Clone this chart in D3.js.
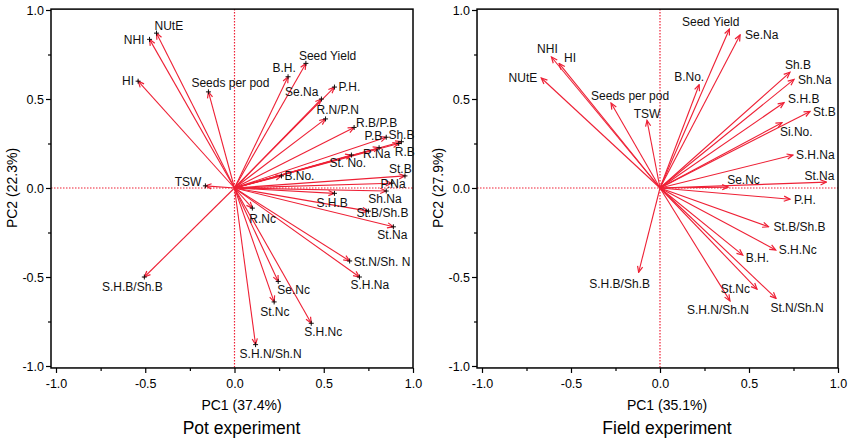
<!DOCTYPE html>
<html>
<head>
<meta charset="utf-8">
<script src="https://cdn.jsdelivr.net/npm/d3@7"></script>
<style>
  body { margin: 0; background: #fff; }
  svg { font-family: Arial, "Liberation Sans", sans-serif; }
</style>
</head>
<body>
<svg id="chart" width="851" height="443"></svg>
<script>
// ---- data ----
let potNames = ["NUtE", "NHI", "HI", "Seeds per pod", "B.H.", "Seed Yield", "P.H.", "Se.Na",
  "R.N/P.N", "R.B/P.B", "P.B", "Sh.B", "R.B", "R.Na", "St. No.", "B.No.", "St.B", "P.Na",
  "Sh.Na", "S.H.B", "TSW", "St.B/Sh.B", "R.Nc", "St.Na", "St.N/Sh. N", "S.H.Na",
  "S.H.B/Sh.B", "Se.Nc", "St.Nc", "S.H.Nc", "S.H.N/Sh.N"];
let potPC1 = [-0.437, -0.476, -0.54, -0.146, 0.30, 0.40, 0.56, 0.487,
  0.51, 0.67, 0.85, 0.935, 0.92, 0.81, 0.655, 0.263, 0.955, 0.88,
  0.85, 0.56, -0.163, 0.75, 0.10, 0.89, 0.645, 0.70,
  -0.505, 0.245, 0.222, 0.43, 0.118];
let potPC2 = [0.87, 0.835, 0.60, 0.54, 0.625, 0.70, 0.567, 0.50,
  0.388, 0.34, 0.285, 0.26, 0.25, 0.226, 0.185, 0.068, 0.068, 0.027,
  -0.017, -0.03, 0.012, -0.13, -0.113, -0.218, -0.41, -0.50,
  -0.50, -0.525, -0.64, -0.76, -0.88];

let fieldNames = ["Seed Yield", "Se.Na", "NHI", "HI", "NUtE", "B.No.", "Seeds per pod", "TSW",
  "Sh.B", "Sh.Na", "S.H.B", "St.B", "Si.No.", "S.H.Na", "St.Na", "Se.Nc", "P.H.",
  "St.B/Sh.B", "S.H.Nc", "B.H.", "S.H.B/Sh.B", "St.Nc", "S.H.N/Sh.N", "St.N/Sh.N"];
let fieldPC1 = [0.39, 0.45, -0.61, -0.567, -0.667, 0.22, -0.275, -0.073,
  0.73, 0.753, 0.697, 0.843, 0.685, 0.747, 0.935, 0.383, 0.73,
  0.61, 0.65, 0.465, -0.12, 0.545, 0.393, 0.652];
let fieldPC2 = [0.893, 0.86, 0.736, 0.70, 0.618, 0.58, 0.477, 0.38,
  0.65, 0.61, 0.48, 0.43, 0.367, 0.185, 0.033, 0.005, -0.063,
  -0.218, -0.348, -0.377, -0.474, -0.568, -0.634, -0.62];

let majorTicks = [-1, -0.5, 0, 0.5, 1];
let minorTicks = [-0.75, -0.25, 0.25, 0.75];

// ---- label placement (pixels from arrow tip) ----
let potLabelPos = [[-2,-7,"start"],[-5,0,"end"],[-4,0,"end"],[22,-9,"middle"],[-4,-9,"middle"],
  [-7,-8,"start"],[4,0,"start"],[-3,-7,"end"],[-9,-9,"start"],[2,-5,"start"],[-4,-1,"end"],
  [-13,-7,"start"],[-4,8,"start"],[-16,6,"start"],[-22,8,"start"],[3,0,"start"],[-16,-7,"start"],
  [-11,1,"start"],[-18,8,"start"],[-18,9,"start"],[-4,-4,"end"],[-12,2,"start"],[-3,11,"start"],
  [-16,8,"start"],[4,1,"start"],[-9,8,"start"],[-12,10,"middle"],[-1,8,"start"],[-14,10,"start"],
  [-7,9,"start"],[-16,9,"start"]];
let fieldLabelPos = [[10,-7,"end"],[5,0,"start"],[-4,-8,"middle"],[5,-6,"start"],[-4,0,"end"],
  [-10,-8,"middle"],[-20,-7,"start"],[0,-7,"middle"],[-5,-8,"start"],[4,0,"start"],[4,-4,"start"],
  [3,0,"start"],[-2,9,"start"],[3,0,"start"],[-22,-6,"start"],[-1,-7,"start"],[4,1,"start"],
  [5,0,"start"],[3,0,"start"],[3,3,"start"],[-19,11,"middle"],[-7,0,"end"],[-12,9,"middle"],
  [21,9,"middle"]];

const red = "#ee2035";
const svg = d3.select("#chart");

svg.append("defs").append("marker")
  .attr("id", "head")
  .attr("viewBox", "-8 -4 9 8")
  .attr("refX", 0).attr("refY", 0)
  .attr("markerWidth", 9).attr("markerHeight", 8)
  .attr("markerUnits", "userSpaceOnUse")
  .attr("orient", "auto")
  .append("path")
  .attr("d", "M-6,-2.6L0,0L-6,2.6")
  .attr("fill", "none")
  .attr("stroke", red)
  .attr("stroke-width", 1.2);

let drawPanel = (cfg) => {
  let x = d3.scaleLinear().domain([-1, 1]).range([cfg.left, cfg.right]);
  let y = d3.scaleLinear().domain([-1, 1]).range([366, 10]);
  let g = svg.append("g");

  let fx0 = x(-1.028), fx1 = x(1), fy0 = y(1.005), fy1 = y(-1.011);

  // reference lines
  g.append("line").attr("x1", x(0)).attr("x2", x(0)).attr("y1", fy0).attr("y2", fy1)
    .attr("stroke", red).attr("stroke-width", 1.2).attr("stroke-dasharray", "1.5,1.5");
  g.append("line").attr("x1", fx0).attr("x2", fx1).attr("y1", y(0)).attr("y2", y(0))
    .attr("stroke", red).attr("stroke-width", 1.2).attr("stroke-dasharray", "1.5,1.5");

  // axes
  let fmt = (d) => d.toFixed(1);
  g.append("g").attr("transform", "translate(" + fx0 + ",0)")
    .call(d3.axisLeft(y).tickValues(majorTicks).tickFormat(fmt).tickSize(5).tickPadding(2));
  g.append("g").attr("transform", "translate(" + fx0 + ",0)")
    .call(d3.axisLeft(y).tickValues(minorTicks).tickFormat("").tickSize(3));
  g.append("g").attr("transform", "translate(0," + fy1 + ")")
    .call(d3.axisBottom(x).tickValues(majorTicks).tickFormat(fmt).tickSize(5).tickPadding(6));
  g.append("g").attr("transform", "translate(0," + fy1 + ")")
    .call(d3.axisBottom(x).tickValues(minorTicks).tickFormat("").tickSize(3));
  g.selectAll(".domain").remove();
  g.selectAll(".tick line").attr("stroke", "#000").attr("stroke-width", 1.2);
  g.selectAll(".tick text").attr("font-size", 12.5).attr("fill", "#000")
    .attr("font-family", "Arial, 'Liberation Sans', sans-serif");

  g.append("rect").attr("x", fx0).attr("y", fy0)
    .attr("width", fx1 - fx0).attr("height", fy1 - fy0)
    .attr("fill", "none").attr("stroke", "#000").attr("stroke-width", 1.5);

  // vectors
  let data = cfg.names.map((n, i) => ({ name: n, pc1: cfg.pc1[i], pc2: cfg.pc2[i], pos: cfg.pos[i] }));
  g.selectAll("line.vec")
    .data(data)
    .enter()
    .append("line")
    .attr("class", "vec")
    .attr("x1", x(0)).attr("y1", y(0))
    .attr("x2", (d) => x(d.pc1)).attr("y2", (d) => y(d.pc2))
    .attr("stroke", red).attr("stroke-width", 1.1)
    .attr("marker-end", "url(#head)");

  if (cfg.cross) {
    g.selectAll("path.tip")
      .data(data)
      .enter()
      .append("path")
      .attr("class", "tip")
      .attr("d", (d) => {
        let px = x(d.pc1), py = y(d.pc2);
        return "M" + (px - 2.5) + "," + py + "H" + (px + 2.5) + "M" + px + "," + (py - 2.5) + "V" + (py + 2.5);
      })
      .attr("stroke", "#111").attr("stroke-width", 1);
  }

  g.selectAll("text.lab")
    .data(data)
    .enter()
    .append("text")
    .attr("class", "lab")
    .attr("x", (d) => x(d.pc1) + d.pos[0])
    .attr("y", (d) => y(d.pc2) + d.pos[1])
    .attr("dy", "0.35em")
    .attr("text-anchor", (d) => d.pos[2])
    .attr("font-size", 12)
    .attr("fill", "#111")
    .text((d) => d.name);

  // titles
  g.append("text")
    .attr("transform", "translate(" + (fx0 - 39) + "," + y(0) + ") rotate(-90)")
    .attr("text-anchor", "middle")
    .attr("dy", "0.35em")
    .attr("font-size", 14)
    .text(cfg.yTitle);
  g.append("text")
    .attr("x", x(0) + 7).attr("y", 410)
    .attr("text-anchor", "middle")
    .attr("font-size", 14)
    .text(cfg.xTitle);
  g.append("text")
    .attr("x", x(0) + 7).attr("y", 434)
    .attr("text-anchor", "middle")
    .attr("font-size", 17.5)
    .text(cfg.title);
};

drawPanel({ left: 56, right: 413, names: potNames, pc1: potPC1, pc2: potPC2, pos: potLabelPos,
  cross: true, xTitle: "PC1 (37.4%)", yTitle: "PC2 (22.3%)", title: "Pot experiment" });
drawPanel({ left: 482, right: 838, names: fieldNames, pc1: fieldPC1, pc2: fieldPC2, pos: fieldLabelPos,
  cross: false, xTitle: "PC1 (35.1%)", yTitle: "PC2 (27.9%)", title: "Field experiment" });
</script>
</body>
</html>
